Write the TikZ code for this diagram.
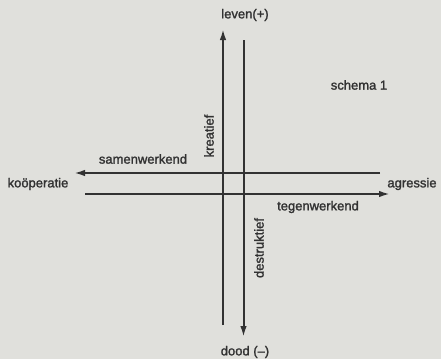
\documentclass[tikz,border=0pt]{standalone}
\usepackage{fontspec}
\setmainfont{Liberation Sans}
\newfontfamily\schemafont[FakeBold=1.6,Ligatures=TeX]{Liberation Sans}
\usetikzlibrary{arrows.meta,positioning}
\definecolor{papier}{RGB}{224,224,220}
\definecolor{inkt}{RGB}{50,50,50}
\tikzset{
  lijn/.style={inkt,line width=2pt},
  pijl/.style={lijn,-{Latex[length=11pt,width=6.5pt]}},
  tekst/.style={inkt,font=\schemafont\fontsize{13}{15}\selectfont,inner sep=0pt}
}
\begin{document}
\begin{tikzpicture}[x=1pt,y=-1pt]

\fill[papier] (0,0) rectangle (441,359);
\coordinate (kreaonder) at (223,325);
\coordinate (kreaboven) at (223,29);
\coordinate (destrboven) at (243.5,40);
\coordinate (destronder) at (243.5,337);
\coordinate (samenrechts) at (380,173);
\coordinate (samenlinks) at (74,173);
\coordinate (tegenlinks) at (85,194);
\coordinate (tegenrechts) at (390,194);
\draw[pijl] (kreaonder) -- (kreaboven);
\draw[pijl] (destrboven) -- (destronder);
\draw[pijl] (samenrechts) -- (samenlinks);
\draw[pijl] (tegenlinks) -- (tegenrechts);
\node[tekst] (leven) at (245,15) {leven(+)};
\node[tekst] (dood) at (245,352) {dood (–)};
\node[tekst] (schema) at (359,85) {schema 1};
\node[tekst] (koop) at (38,184) {koöperatie};
\node[tekst] (agressie) at (412,184) {agressie};
\node[tekst] (samen) at (143,159) {samenwerkend};
\node[tekst] (tegen) at (318,207) {tegenwerkend};
\node[tekst,rotate=90] (kreatief) at (209,136) {kreatief};
\node[tekst,rotate=90] (destruktief) at (259,248) {destruktief};
\end{tikzpicture}
\end{document}
